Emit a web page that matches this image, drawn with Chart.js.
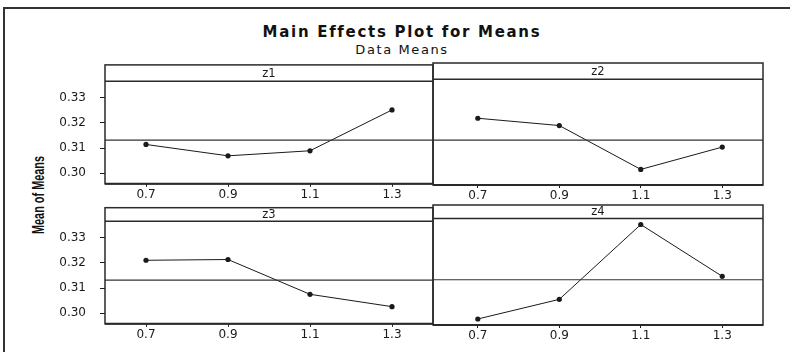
<!DOCTYPE html>
<html>
<head>
<meta charset="utf-8">
<script src="https://cdn.jsdelivr.net/npm/chart.js@4/dist/chart.umd.min.js"></script>
<style>
  html, body { margin: 0; padding: 0; background: #fff; }
  #wrap { position: relative; width: 790px; height: 352px; overflow: hidden; background: #fff; }
  #frame { position: absolute; left: 3px; top: 7px; width: 800px; height: 360px;
           border-left: 2px solid #333; border-top: 2px solid #333; }
  canvas { position: absolute; }
  .t { position: absolute; white-space: nowrap; color: #111; font-family: "DejaVu Sans", Verdana, sans-serif; }
  #title { left: 0; width: 804px; top: 23px; text-align: center; font-weight: bold; font-size: 15px; letter-spacing: 1.7px; }
  #sub { left: 0; width: 804px; top: 42px; text-align: center; font-size: 13px; letter-spacing: 1.6px; }
  #ylab { left: 39px; top: 195px; transform: translate(-50%, -50%) rotate(-90deg) scaleX(0.68);
          font-family: "Liberation Sans", Arial, sans-serif; font-size: 16px; font-weight: bold; color: #111; }
</style>
</head>
<body>
<div id="wrap">
  <div id="frame"></div>
  <div class="t" id="title">Main Effects Plot for Means</div>
  <div class="t" id="sub">Data Means</div>
  <div class="t" id="ylab">Mean of Means</div>
  <canvas id="c1" width="440" height="145" style="left:0px;top:60px"></canvas>
  <canvas id="c2" width="364" height="145" style="left:426px;top:60px"></canvas>
  <canvas id="c3" width="440" height="145" style="left:0px;top:200px"></canvas>
  <canvas id="c4" width="364" height="145" style="left:426px;top:200px"></canvas>
</div>
<script>
// ---- data ----
const factorNames = ["z1", "z2", "z3", "z4"];
const levels = [0.7, 0.9, 1.1, 1.3];
const z1Means = [0.3114, 0.3069, 0.3089, 0.3251];
const z2Means = [0.3215, 0.3187, 0.3018, 0.3104];
const z3Means = [0.3210, 0.3213, 0.3075, 0.3026];
const z4Means = [0.2981, 0.3056, 0.3342, 0.3144];
const grandMean = 0.3131;
const yTicks = [0.30, 0.31, 0.32, 0.33];
const xRangeLeft = [0.6, 1.4];
const xRangeRight = [0.59, 1.4];
const yRange = [0.2958, 0.3365];

const ink = '#1a1a1a';
const tickFont = { family: '"DejaVu Sans", Verdana, sans-serif', size: 12 };

const panelFrame = {
  id: 'panelFrame',
  afterDraw(chart, args, opts) {
    const ctx = chart.ctx;
    const { left, right, top, bottom } = chart.chartArea;
    const h = opts.headerHeight;
    ctx.save();
    ctx.strokeStyle = '#2a2a2a';
    ctx.lineWidth = 1.5;
    ctx.strokeRect(left, top - h, right - left, bottom - top + h);
    ctx.beginPath();
    ctx.moveTo(left, top);
    ctx.lineTo(right, top);
    ctx.stroke();
    ctx.beginPath();
    ctx.lineWidth = 2;
    ctx.moveTo(left, bottom);
    ctx.lineTo(right, bottom);
    ctx.stroke();
    ctx.fillStyle = ink;
    ctx.font = '11.5px "DejaVu Sans", Verdana, sans-serif';
    ctx.textAlign = 'center';
    ctx.textBaseline = 'middle';
    ctx.fillText(opts.label, (left + right) / 2, top - h / 2 + 0.5);
    ctx.restore();
  }
};

function makePanel(id, name, means, showY, xRange, pad, headerH) {
  const pts = levels.map((lv, i) => ({ x: lv, y: means[i] }));
  const meanLine = xRange.map(x => ({ x: x, y: grandMean }));
  new Chart(document.getElementById(id), {
    type: 'line',
    data: {
      datasets: [
        { data: meanLine, borderColor: '#333', borderWidth: 1.2, pointRadius: 0, fill: false },
        { data: pts, borderColor: ink, borderWidth: 1, pointRadius: 2.6, pointBackgroundColor: ink,
          pointBorderColor: ink, pointBorderWidth: 0, fill: false, tension: 0 }
      ]
    },
    options: {
      responsive: false,
      animation: false,
      events: [],
      layout: { padding: pad },
      plugins: { legend: { display: false }, tooltip: { enabled: false }, title: { display: false },
                 panelFrame: { label: name, headerHeight: headerH } },
      scales: {
        x: {
          type: 'linear', min: xRange[0], max: xRange[1],
          afterBuildTicks: (ax) => { ax.ticks = levels.map(v => ({ value: v })); },
          afterFit: (ax) => { ax.height = 20; },
          border: { display: false },
          grid: { display: true, drawOnChartArea: false, drawTicks: true, tickLength: 3, color: ink, lineWidth: 1 },
          ticks: { color: ink, font: tickFont, padding: 1, maxRotation: 0, autoSkip: false,
                   callback: (v) => Number(v).toFixed(1) }
        },
        y: {
          type: 'linear', min: yRange[0], max: yRange[1],
          display: showY,
          afterBuildTicks: (ax) => { ax.ticks = yTicks.map(v => ({ value: v })); },
          afterFit: (ax) => { ax.width = showY ? 105 : 0; },
          border: { display: false },
          grid: { display: true, drawOnChartArea: false, drawTicks: true, tickLength: 5, color: ink, lineWidth: 1 },
          ticks: { color: ink, font: tickFont, padding: 14, autoSkip: false,
                   callback: (v) => Number(v).toFixed(2) }
        }
      }
    },
    plugins: [panelFrame]
  });
}

const allMeans = [z1Means, z2Means, z3Means, z4Means];
makePanel('c1', factorNames[0], allMeans[0], true,  xRangeLeft,  { top: 19.3, right: 7, bottom: 0, left: 0 }, 16.3);
makePanel('c2', factorNames[1], allMeans[1], false, xRangeRight, { top: 19.3, right: 27, bottom: 0, left: 7 }, 16.3);
makePanel('c3', factorNames[2], allMeans[2], true,  xRangeLeft,  { top: 18.5, right: 7, bottom: 0, left: 0 }, 13.5);
makePanel('c4', factorNames[3], allMeans[3], false, xRangeRight, { top: 18.5, right: 27, bottom: 0, left: 7 }, 13.5);
</script>
</body>
</html>
